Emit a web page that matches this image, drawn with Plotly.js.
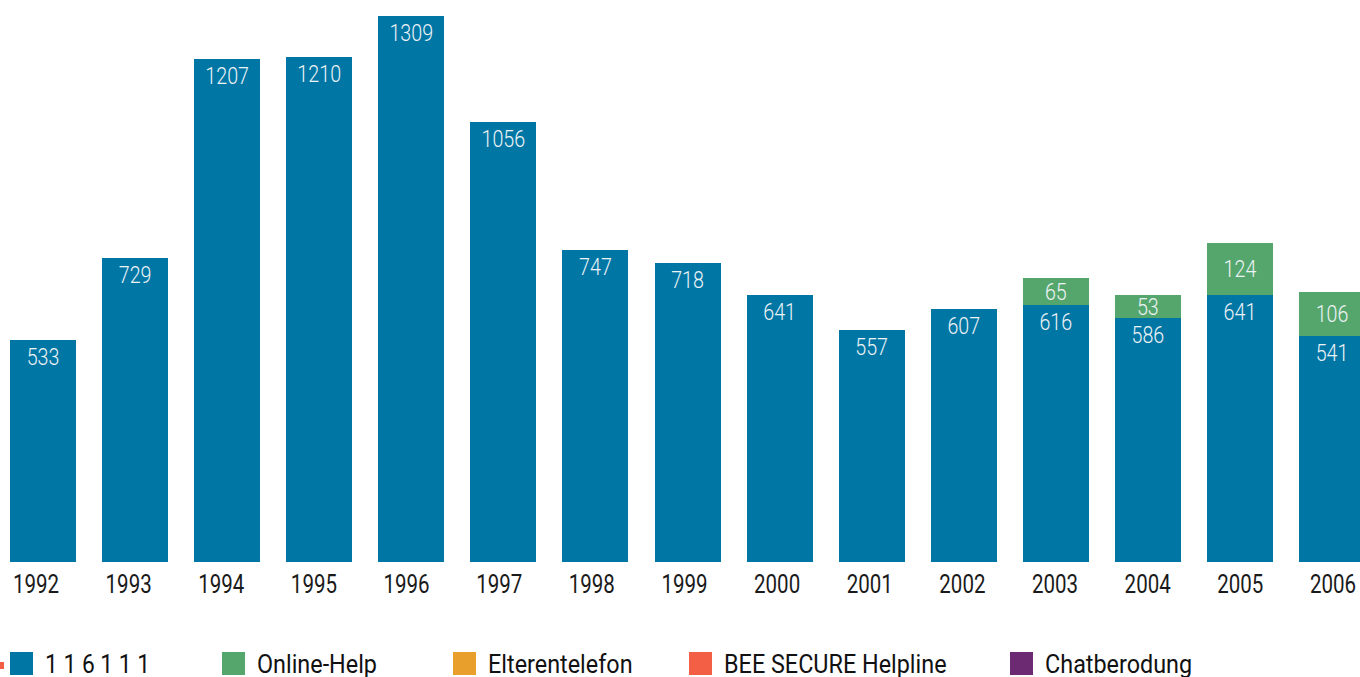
<!DOCTYPE html>
<html>
<head>
<meta charset="utf-8">
<script src="https://cdn.plot.ly/plotly-3.0.1.min.js"></script>
<style>
  html, body { margin: 0; padding: 0; background: #ffffff; }
  #chart { width: 1360px; height: 677px; }
</style>
</head>
<body>
<div id="chart"></div>
<script>
// Yearly contacts per service
const years = ['1992','1993','1994','1995','1996','1997','1998','1999','2000','2001','2002','2003','2004','2005','2006'];
const hotline116111 = [533, 729, 1207, 1210, 1309, 1056, 747, 718, 641, 557, 607, 616, 586, 641, 541];
const onlineHelp = [null, null, null, null, null, null, null, null, null, null, null, 65, 53, 124, 106];

const seriesNames = ['1 1 6 1 1 1', 'Online-Help', 'Elterentelefon', 'BEE SECURE Helpline', 'Chatberodung'];
const seriesColors = ['#0076a5', '#55a66c', '#e89f2b', '#f35f45', '#6b2a72'];

const FONT = 'Roboto, "Noto Sans", sans-serif';
const NARROW = 0.82;          // horizontal squeeze for numbers (condensed look)
const NARROW_LEGEND = 0.935;  // squeeze for the legend words
const W = 1360, H = 677, MB = 115;
const plotH = H - MB;

const labelFont = { family: FONT, size: 24, color: '#eef3f6', weight: 300 };

const traces = [
  {
    type: 'bar', name: seriesNames[0], x: years, y: hotline116111,
    marker: { color: seriesColors[0] }, width: 0.717,
    text: hotline116111.map(String), textposition: 'inside', insidetextanchor: 'end',
    textangle: 0, textfont: labelFont, constraintext: 'none', hoverinfo: 'x+y', showlegend: false
  },
  {
    type: 'bar', name: seriesNames[1], x: years, y: onlineHelp,
    marker: { color: seriesColors[1] }, width: 0.717,
    text: onlineHelp.map(v => v == null ? '' : String(v)), textposition: 'inside', insidetextanchor: 'middle',
    textangle: 0, textfont: labelFont, constraintext: 'none', hoverinfo: 'x+y', showlegend: false
  },
  // carrier for the year-label axis (no marks)
  { type: 'scatter', mode: 'none', x: [], y: [], xaxis: 'x2', yaxis: 'y', showlegend: false, hoverinfo: 'skip' }
];

// Legend row drawn below the axis (pixel positions converted to paper units)
const px = x => x / W;
const py = y => (plotH - y) / plotH;
const legendX = [10, 222, 453, 689, 1010];
const shapes = [];
const annotations = [];
// partial marker at the left edge
shapes.push({ type: 'rect', xref: 'paper', yref: 'paper', x0: px(-4), x1: px(4), y0: py(669), y1: py(662),
  fillcolor: seriesColors[3], line: { width: 0 } });
legendX.forEach((lx, i) => {
  shapes.push({ type: 'rect', xref: 'paper', yref: 'paper', x0: px(lx), x1: px(lx + 23), y0: py(675), y1: py(652),
    fillcolor: seriesColors[i], line: { width: 0 } });
  annotations.push({ xref: 'paper', yref: 'paper', x: px(lx + 33), y: py(664), xanchor: 'left', yanchor: 'middle',
    text: seriesNames[i], showarrow: false, font: { family: FONT, size: 25, color: '#111111', weight: 400 } });
});

const layout = {
  width: W, height: H,
  margin: { l: 0, r: 0, t: 0, b: MB },
  paper_bgcolor: '#ffffff', plot_bgcolor: '#ffffff',
  barmode: 'stack',
  showlegend: false,
  xaxis: {
    type: 'category', range: [-0.467, 14.304],
    showgrid: false, zeroline: false, showline: false, ticks: '', showticklabels: false
  },
  // year labels sit on their own, slightly wider-spaced scale
  xaxis2: {
    overlaying: 'x', anchor: 'y', side: 'bottom',
    type: 'linear', range: [-0.3886, 14.292],
    tickmode: 'array', tickvals: years.map((_, i) => i), ticktext: years,
    showgrid: false, zeroline: false, showline: false, ticks: '',
    ticklabelstandoff: 5, ticklabeloverflow: 'allow',
    tickfont: { family: FONT, size: 25, color: '#1a1a1a', weight: 400 }
  },
  yaxis: {
    range: [0, 1347.4], visible: false, showgrid: false, zeroline: false
  },
  shapes: shapes,
  annotations: annotations
};

// Squeeze texts horizontally to get a condensed face; legend texts keep their left edge
function condense(gd) {
  gd.querySelectorAll('text').forEach(t => {
    const len = t.getComputedTextLength();
    if (!len) return;
    const isLegend = t.classList.contains('annotation-text');
    let target = len * (isLegend ? NARROW_LEGEND : NARROW);
    if (t.textContent === seriesNames[0]) target = 105;
    t.setAttribute('textLength', target.toFixed(1));
    t.setAttribute('lengthAdjust', 'spacingAndGlyphs');
    if (isLegend) {
      const x0 = parseFloat(t.getAttribute('x')) || 0;
      t.setAttribute('x', (x0 - (len - target) / 2).toFixed(1));
    }
  });
}

Plotly.newPlot('chart', traces, layout, { displayModeBar: false, staticPlot: true })
  .then(gd => condense(gd));
</script>
</body>
</html>
